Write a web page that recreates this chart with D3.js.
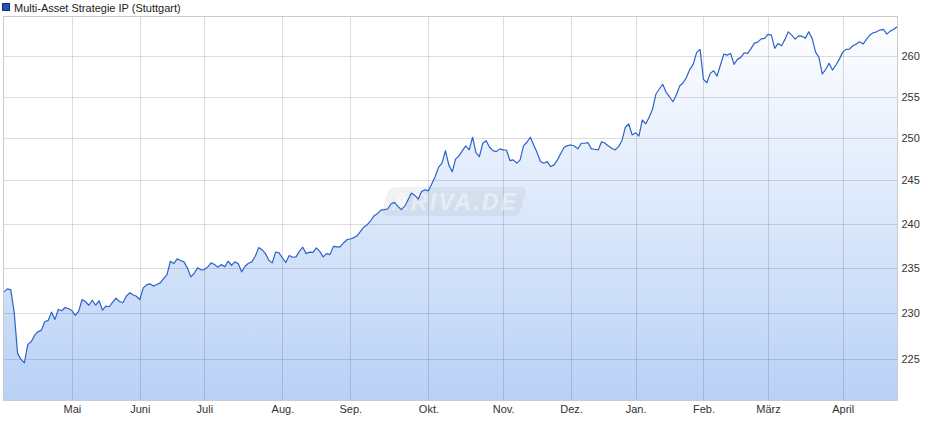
<!DOCTYPE html>
<html>
<head>
<meta charset="utf-8">
<script src="https://cdn.jsdelivr.net/npm/d3@7"></script>
<style>
  html, body { margin: 0; padding: 0; background: #fff; }
  svg { display: block; font-family: "Liberation Sans", Arial, sans-serif; }
</style>
</head>
<body>
<svg id="chart" width="940" height="435"></svg>
<script>
// ---- data ----
const seriesName = "Multi-Asset Strategie IP (Stuttgart)";
const values = [
  232.30, 232.63, 232.52, 230.03, 225.57, 224.92, 224.56, 226.54, 226.83, 227.51,
  227.92, 228.06, 229.01, 229.15, 230.06, 229.26, 230.35, 230.21, 230.57, 230.43,
  230.24, 229.70, 230.17, 231.45, 231.20, 230.82, 231.37, 230.82, 231.31, 230.28,
  230.71, 230.65, 231.15, 231.59, 231.23, 231.09, 231.81, 232.19, 231.97, 231.81,
  231.45, 232.74, 233.08, 233.19, 232.94, 233.11, 233.30, 233.78, 234.23, 235.72,
  235.46, 235.99, 235.80, 235.65, 234.98, 233.97, 234.34, 234.98, 234.76, 234.79,
  235.09, 235.54, 235.35, 235.05, 235.35, 235.09, 235.72, 235.27, 235.65, 235.43,
  234.53, 235.16, 235.50, 235.65, 236.28, 237.26, 237.03, 236.58, 235.83, 235.54,
  236.77, 236.66, 236.10, 235.58, 236.36, 236.17, 236.21, 236.86, 237.31, 236.58,
  236.75, 236.73, 237.22, 236.84, 236.21, 236.58, 236.47, 237.40, 237.34, 237.34,
  237.79, 238.16, 238.24, 238.39, 238.62, 239.11, 239.61, 239.88, 240.33, 240.91,
  241.14, 241.56, 241.60, 241.68, 242.29, 242.44, 241.98, 241.60, 241.98, 242.75,
  243.53, 243.25, 242.83, 243.71, 243.91, 243.79, 244.61, 245.46, 246.56, 247.03,
  248.51, 246.83, 246.01, 247.50, 247.89, 248.51, 249.07, 248.60, 250.11, 248.28,
  247.81, 249.39, 249.70, 248.92, 248.51, 248.40, 248.72, 248.60, 248.56, 247.34,
  247.42, 247.03, 247.42, 249.07, 249.51, 250.11, 249.19, 248.28, 247.22, 247.03,
  247.22, 246.63, 246.83, 247.42, 248.21, 248.92, 249.11, 249.19, 249.07, 248.72,
  249.39, 249.39, 249.46, 248.72, 248.68, 248.60, 249.58, 249.39, 249.07, 248.80,
  248.60, 248.99, 249.70, 251.31, 251.70, 250.38, 250.66, 250.26, 252.18, 251.70,
  252.51, 253.47, 255.33, 255.94, 256.51, 255.54, 255.00, 254.39, 255.21, 256.31,
  256.71, 257.37, 258.36, 259.01, 260.46, 260.83, 257.13, 256.71, 257.86, 258.18,
  257.53, 258.89, 260.25, 260.12, 260.33, 258.97, 259.59, 259.84, 260.41, 260.33,
  260.93, 261.62, 261.74, 262.14, 262.21, 262.71, 262.62, 260.96, 261.58, 261.28,
  262.08, 263.03, 262.62, 262.12, 262.53, 262.49, 262.21, 263.03, 262.21, 260.53,
  259.84, 257.78, 258.36, 259.10, 258.27, 258.89, 259.59, 260.46, 260.83, 260.87,
  261.28, 261.49, 261.78, 261.49, 262.08, 262.62, 262.91, 263.03, 263.25, 263.33,
  262.74, 263.12, 263.33, 263.66
];
const monthLabels = ["Mai", "Juni", "Juli", "Aug.", "Sep.", "Okt.", "Nov.", "Dez.", "Jan.", "Feb.", "März", "April"];
const monthStartIndex = [20, 40, 59, 82, 102, 125, 147, 167, 186, 206, 225, 247];
const yTicks = [225, 230, 235, 240, 245, 250, 255, 260];
const yExtent = [220.6, 264.9];

// ---- layout ----
const svg = d3.select("#chart");
const plot = { left: 3.5, right: 897.5, top: 16.5, bottom: 400.5 };

const x = d3.scaleLinear().domain([0, values.length - 1]).range([4, 897]);
const y = d3.scaleLog().domain(yExtent).range([400, 17]);

// gradient
const defs = svg.append("defs");
const grad = defs.append("linearGradient")
  .attr("id", "fillGrad").attr("gradientUnits", "userSpaceOnUse")
  .attr("x1", 0).attr("x2", 0).attr("y1", 17).attr("y2", 400);
grad.append("stop").attr("offset", "0%").attr("stop-color", "#ffffff");
grad.append("stop").attr("offset", "100%").attr("stop-color", "#b9d1f7");

defs.append("clipPath").attr("id", "plotClip")
  .append("rect").attr("x", plot.left).attr("y", plot.top)
  .attr("width", plot.right - plot.left).attr("height", plot.bottom - plot.top);

// area fill
const area = d3.area()
  .x((d, i) => x(i))
  .y0(400)
  .y1(d => y(d));
svg.append("path")
  .datum(values)
  .attr("d", area)
  .attr("fill", "url(#fillGrad)")
  .attr("clip-path", "url(#plotClip)");

// grid lines
const grid = svg.append("g").attr("stroke", "#000").attr("stroke-opacity", 0.13).attr("shape-rendering", "crispEdges");
grid.selectAll("line.h").data(yTicks).enter().append("line")
  .attr("x1", plot.left).attr("x2", plot.right)
  .attr("y1", d => Math.round(y(d)) + 0.5).attr("y2", d => Math.round(y(d)) + 0.5);
grid.selectAll("line.v").data(monthStartIndex).enter().append("line")
  .attr("y1", plot.top).attr("y2", plot.bottom)
  .attr("x1", d => Math.round(x(d)) + 0.5).attr("x2", d => Math.round(x(d)) + 0.5);

// watermark
const wm = svg.append("g").attr("transform", "translate(453,201.5) skewX(-16)");
wm.append("rect").attr("x", -68).attr("y", -14.5).attr("width", 138).attr("height", 29).attr("rx", 6)
  .attr("fill", "#808080").attr("fill-opacity", 0.1);
svg.append("text").attr("x", 392).attr("y", 210)
  .attr("font-size", 23).attr("font-weight", "bold").attr("font-style", "italic")
  .attr("textLength", 124).attr("lengthAdjust", "spacing")
  .attr("fill", "#ffffff").attr("fill-opacity", 0.45)
  .text("ARIVA.DE");

// line
const line = d3.line().x((d, i) => x(i)).y(d => y(d));
svg.append("path")
  .datum(values)
  .attr("d", line)
  .attr("fill", "none")
  .attr("stroke", "#2c63c8")
  .attr("stroke-width", 1.2)
  .attr("stroke-linejoin", "round");

// frame
svg.append("rect")
  .attr("x", plot.left).attr("y", plot.top)
  .attr("width", plot.right - plot.left).attr("height", plot.bottom - plot.top)
  .attr("fill", "none").attr("stroke", "#cccccc").attr("shape-rendering", "crispEdges");

// y axis (right)
const yAxis = d3.axisRight(y).tickValues(yTicks).tickSize(0).tickPadding(4).tickFormat(d3.format("d"));
const gy = svg.append("g").attr("transform", `translate(${plot.right},0)`).call(yAxis);
gy.select(".domain").remove();
gy.selectAll("text").attr("font-size", 11).attr("fill", "#333").attr("font-family", "'Liberation Sans', Arial, sans-serif");

// x axis
const xAxis = d3.axisBottom(x).tickValues(monthStartIndex).tickSize(0).tickPadding(5)
  .tickFormat((d, i) => monthLabels[i]);
const gx = svg.append("g").attr("transform", `translate(0,${plot.bottom})`).call(xAxis);
gx.select(".domain").remove();
gx.selectAll("text").attr("font-size", 11).attr("fill", "#333").attr("font-family", "'Liberation Sans', Arial, sans-serif");

// legend
svg.append("rect").attr("x", 2.5).attr("y", 3.5).attr("width", 7).attr("height", 7)
  .attr("fill", "#1f55b8").attr("stroke", "#0e2f70");
svg.append("text").attr("x", 14).attr("y", 12)
  .attr("font-size", 11).attr("fill", "#222")
  .text(seriesName);
</script>
</body>
</html>
